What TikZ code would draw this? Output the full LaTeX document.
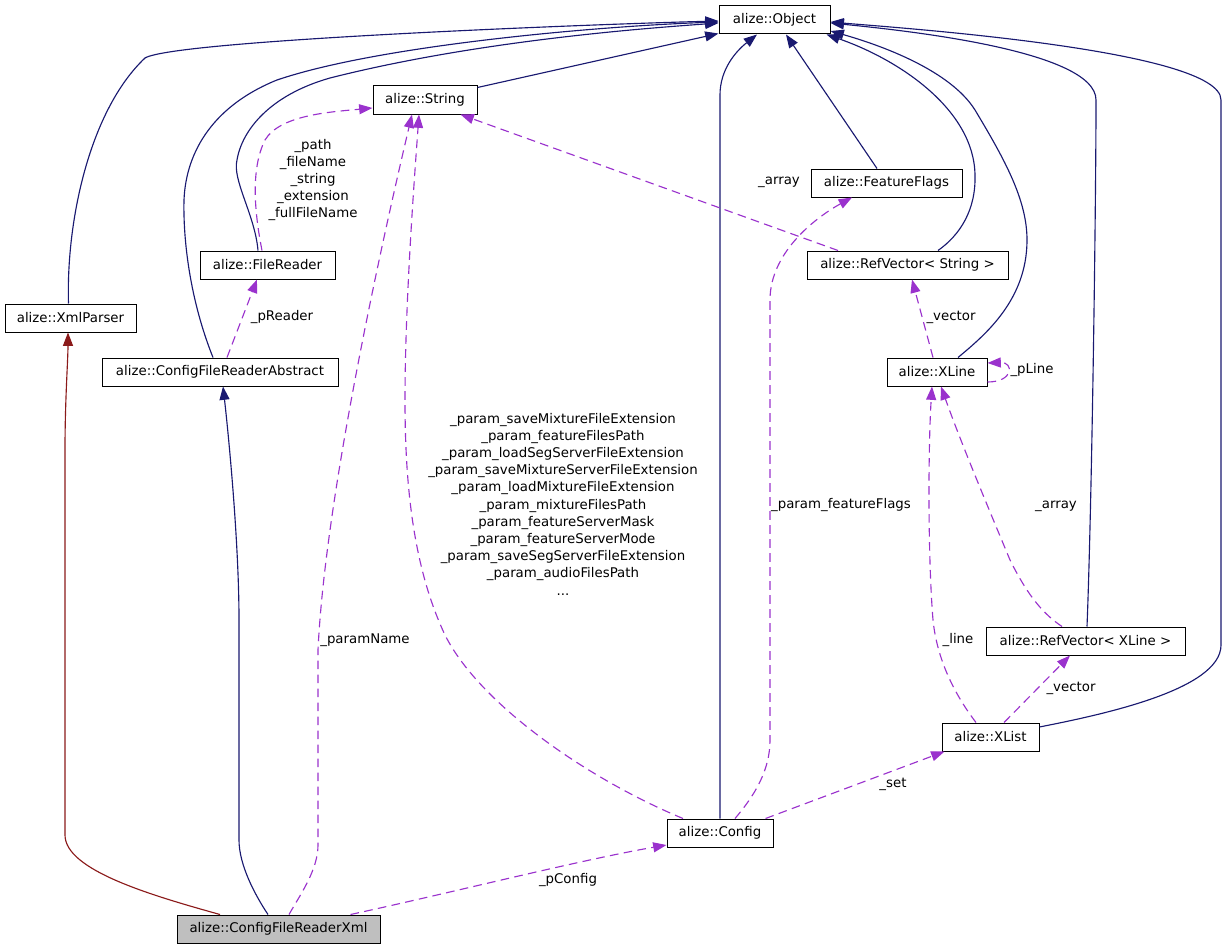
\documentclass[tikz,border=0pt]{standalone}
\usepackage{fontspec}
\setmainfont{DejaVu Sans}
\usetikzlibrary{arrows.meta,calc}
\definecolor{navy}{HTML}{191970}
\definecolor{orchid}{HTML}{9A32CD}
\definecolor{fred}{HTML}{8B1A1A}
\definecolor{boxgrey}{HTML}{BFBFBF}
\begin{document}
\begin{tikzpicture}[x=0.75pt,y=-0.75pt,
  font=\fontsize{10}{12.9}\selectfont,
  cls/.style={draw=black, fill=white, line width=0.75pt, inner sep=0pt, minimum height=21pt, minimum width=#1*0.75pt},
  tip/.style={-{Triangle[length=10pt,width=7.5pt]}},
  inh/.style={draw=navy, line width=0.85pt, tip},
  inhred/.style={draw=fred, line width=0.85pt, tip},
  use/.style={draw=orchid, line width=0.85pt, dash pattern=on 6.5pt off 4pt, tip},
  lbl/.style={align=center, inner sep=0pt, text=black}]
\useasboundingbox (0,0) rectangle (1227,949);

% nodes
\node[cls=111] (Object) at (774.5,20) {alize::Object};
\node[cls=104] (String) at (425,100) {alize::String};
\node[cls=151] (FeatureFlags) at (886.5,183) {alize::FeatureFlags};
\node[cls=201] (RefVecString) at (907.5,265) {alize::RefVector< String >};
\node[cls=100] (XLine) at (937,372) {alize::XLine};
\node[cls=135] (FileReader) at (267.5,265) {alize::FileReader};
\node[cls=131] (XmlParser) at (70.5,318) {alize::XmlParser};
\node[cls=236] (CFRA) at (220,372) {alize::ConfigFileReaderAbstract};
\node[cls=199] (RefVecXLine) at (1085.5,641) {alize::RefVector< XLine >};
\node[cls=97] (XList) at (990.5,737) {alize::XList};
\node[cls=106] (Config) at (720,833) {alize::Config};
\node[cls=203, fill=boxgrey] (CFRXml) at (278.5,929) {alize::ConfigFileReaderXml};

% inheritance edges to Object
\draw[inh] ($(XmlParser.north)+(-2,0)$) .. controls (66,220) and (90,110) .. (145,58)
  .. controls (175,40) and (600,24) .. ($(Object.west)+(0,1)$);
\draw[inh] ($(CFRA.north)+(-7,0)$) .. controls (190,300) and (183,240) .. (184,200)
  .. controls (186,150) and (215,105) .. (277,80)
  .. controls (380,45) and (600,26) .. ($(Object.west)+(0,2)$);
\draw[inh] ($(FileReader.north)+(-9.5,0)$) .. controls (255,215) and (232,180) .. (237,160)
  .. controls (242,130) and (270,95) .. (330,78)
  .. controls (480,40) and (650,28) .. ($(Object.west)+(0,3)$);
\draw[inh] ($(String.north east)+(0,2)$) -- ($(Object.south west)+(0,-1)$);
\draw[inh] (Config.north) -- (720,95) .. controls (720,70) and (735,52) .. ($(Object.south)+(-17.5,0)$);
\draw[inh] ($(FeatureFlags.north)+(-9.5,0)$) -- ($(Object.south)+(11.5,0)$);
\draw[inh] ($(RefVecString.north)+(30.5,0)$) .. controls (960,235) and (976,210) .. (975,175)
  .. controls (974,110) and (900,60) .. ($(Object.south east)+(-4,0)$);
\draw[inh] ($(XLine.north)+(21,0)$) .. controls (985,335) and (1027,300) .. (1027,240)
  .. controls (1027,200) and (1005,160) .. (975,110)
  .. controls (950,70) and (880,45) .. ($(Object.east)+(0,11)$);
\draw[inh] ($(RefVecXLine.north)+(1.5,0)$) .. controls (1092,500) and (1096,200) .. (1096,100)
  .. controls (1096,50) and (900,30) .. ($(Object.east)+(0,3)$);
\draw[inh] ($(XList.east)+(0,-10)$) .. controls (1100,715) and (1221,690) .. (1221,645)
  -- (1221,100) .. controls (1221,50) and (900,28) .. ($(Object.east)+(0,2)$);

% inheritance of ConfigFileReaderXml
\draw[inh] ($(CFRXml.north)+(-10.5,0)$) .. controls (255,895) and (239,865) .. (239,840)
  -- (239,620) .. controls (239,540) and (228,430) .. ($(CFRA.south)+(3,0)$);
\draw[inhred] ($(CFRXml.north)+(-58.5,0)$) .. controls (150,895) and (65,870) .. (65,835)
  -- (65,450) .. controls (65,400) and (68,360) .. ($(XmlParser.south)+(-2.5,0)$);

% usage edges
\draw[use] ($(CFRXml.north)+(10.5,0)$) .. controls (300,895) and (318,870) .. (318,845)
  -- (318,650) .. controls (325,500) and (380,250) .. ($(String.south)+(-13,0)$);
\draw[use] ($(Config.north)+(-37,0)$) .. controls (590,780) and (480,705) .. (445,635)
  .. controls (412,565) and (405,480) .. (405,400)
  .. controls (405,300) and (415,170) .. ($(String.south)+(-6,0)$);
\draw[use] ($(RefVecString.north)+(-69.5,0)$) -- ($(String.south east)+(-17,0)$);
\draw[use] ($(FileReader.north)+(-5.5,0)$) .. controls (255,215) and (250,170) .. (265,140)
  .. controls (280,115) and (330,112) .. ($(String.west)+(0,8)$);
\draw[use] ($(CFRA.north)+(7,0)$) -- ($(FileReader.south)+(-10.5,0)$);
\draw[use] ($(Config.north)+(15,0)$) .. controls (755,795) and (770,770) .. (770,740)
  -- (770,300) .. controls (770,250) and (820,215) .. ($(FeatureFlags.south)+(-34.5,0)$);
\draw[use] ($(XLine.north)+(-4,0)$) -- ($(RefVecString.south)+(4.5,0)$);
\draw[use] ($(XLine.east)+(0,10)$) .. controls (1014,382) and (1014,362) .. ($(XLine.east)+(0,-9)$);
\draw[use] ($(RefVecXLine.north)+(-23.5,0)$) .. controls (1040,612) and (1025,590) .. (1010,560)
  .. controls (985,500) and (960,440) .. ($(XLine.south)+(4,0)$);
\draw[use] ($(XList.north)+(-14.5,0)$) .. controls (955,695) and (937,660) .. (933,620)
  .. controls (928,560) and (928,450) .. ($(XLine.south)+(-5,0)$);
\draw[use] ($(XList.north)+(13.5,0)$) -- ($(RefVecXLine.south)+(-15.5,0)$);
\draw[use] ($(Config.north east)+(-8,0)$) -- ($(XList.south west)+(3,0)$);
\draw[use] ($(CFRXml.north east)+(-30,0)$) .. controls (450,893) and (580,860) .. ($(Config.west)+(0,12)$);

% labels
\node[lbl] (lPath) at (313,180) {\_path\\\_fileName\\\_string\\\_extension\\\_fullFileName};
\node[lbl] (lPReader) at (282,317) {\_pReader};
\node[lbl] (lParamName) at (365,640) {\_paramName};
\node[lbl] (lParams) at (563,504) {\_param\_saveMixtureFileExtension\\\_param\_featureFilesPath\\\_param\_loadSegServerFileExtension\\\_param\_saveMixtureServerFileExtension\\\_param\_loadMixtureFileExtension\\\_param\_mixtureFilesPath\\\_param\_featureServerMask\\\_param\_featureServerMode\\\_param\_saveSegServerFileExtension\\\_param\_audioFilesPath\\...};
\node[lbl] (lArray1) at (779,182) {\_array};
\node[lbl] (lFF) at (841,505) {\_param\_featureFlags};
\node[lbl] (lVector1) at (951,317) {\_vector};
\node[lbl] (lPLine) at (1032,370) {\_pLine};
\node[lbl] (lArray2) at (1056,506) {\_array};
\node[lbl] (lLine) at (958,640) {\_line};
\node[lbl] (lVector2) at (1071,688) {\_vector};
\node[lbl] (lSet) at (893,784) {\_set};
\node[lbl] (lPConfig) at (568,880) {\_pConfig};
\end{tikzpicture}
\end{document}
